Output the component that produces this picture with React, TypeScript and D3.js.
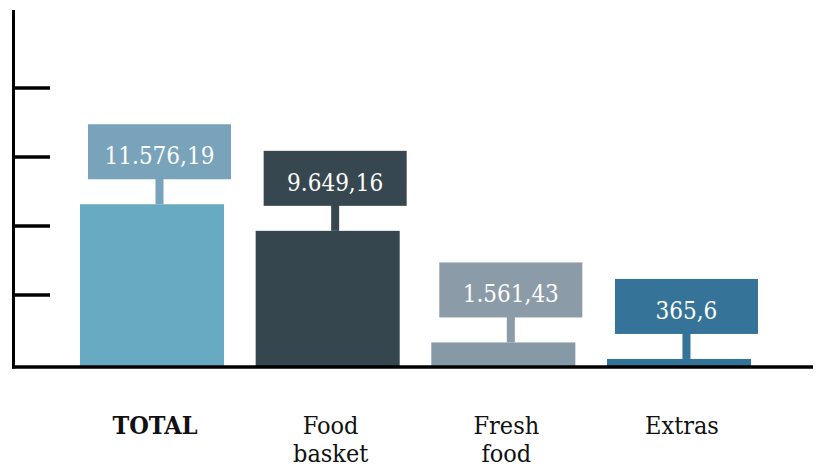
import React from "react";
import * as d3 from "d3";

const categories = ["TOTAL", "Food basket", "Fresh food", "Extras"];
const values = [11576.19, 9649.16, 1561.43, 365.6];
const tickValues = [5000, 10000, 15000, 20000];

const barColors = ["#68aac2", "#35464f", "#8599a7", "#347398"];
const boxColors = ["#79a3bb", "#37474f", "#8b9ba8", "#357398"];

const W = 819;
const H = 468;
const axisX = 13.5;
const baseY = 367;

const locale = d3.formatLocale({ decimal: ",", thousands: ".", grouping: [3], currency: ["", ""] });
const fmt = locale.format(",.2~f");

export default function App() {
    const x = d3.scaleBand<string>()
        .domain(categories)
        .range([80, 751])
        .paddingInner(0.18)
        .paddingOuter(0);
    const y = d3.scaleLinear()
        .domain([0, 20000])
        .range([364, 88]);

    const bw = x.bandwidth();
    const boxW = 143;
    const boxH = 55;
    const boxGap = 25;
    const boxShift = 8;
    const font = "'DejaVu Serif Condensed', 'DejaVu Serif', serif";

    return (
        <svg width={W} height={H} style={{ position: "absolute", left: 0, top: 0, background: "#fff" }}>
            {/* bars */}
            {categories.map((c, i) => (
                <rect key={"bar" + c} x={x(c)} y={y(values[i])} width={bw}
                    height={baseY - y(values[i])} fill={barColors[i]} />
            ))}
            {/* value boxes with stems */}
            {categories.map((c, i) => {
                const top = y(values[i]);
                const bx = (x(c) as number) + boxShift;
                const by = top - boxGap - boxH;
                const cx = bx + boxW / 2;
                return (
                    <g key={"box" + c}>
                        <rect x={cx - 4} y={by + boxH - 1} width={8} height={boxGap + 1} fill={boxColors[i]} />
                        <rect x={bx} y={by} width={boxW} height={boxH} fill={boxColors[i]} />
                        <text x={cx} y={by + 40} textAnchor="middle" fill="#fff"
                            fontFamily={font} fontSize={24}>{fmt(values[i])}</text>
                    </g>
                );
            })}
            {/* axes */}
            <line x1={axisX} x2={axisX} y1={10} y2={baseY + 1.5} stroke="#000" strokeWidth={3} />
            {tickValues.map(t => (
                <line key={"t" + t} x1={axisX} x2={50} y1={y(t)} y2={y(t)} stroke="#000" strokeWidth={3.5} />
            ))}
            <line x1={12} x2={813} y1={baseY} y2={baseY} stroke="#000" strokeWidth={3.5} />
            {/* category labels */}
            {categories.map((c, i) => {
                const lines = c.split(" ");
                const cx = (x(c) as number) + bw / 2 + 3;
                return (
                    <text key={"lab" + c} x={cx} y={434} textAnchor="middle" fill="#111"
                        fontFamily={font} fontSize={25} fontWeight={i === 0 ? "bold" : "normal"}>
                        {lines.map((l, j) => (
                            <tspan key={l} x={cx} dy={j === 0 ? 0 : 28}>{l}</tspan>
                        ))}
                    </text>
                );
            })}
        </svg>
    );
}
